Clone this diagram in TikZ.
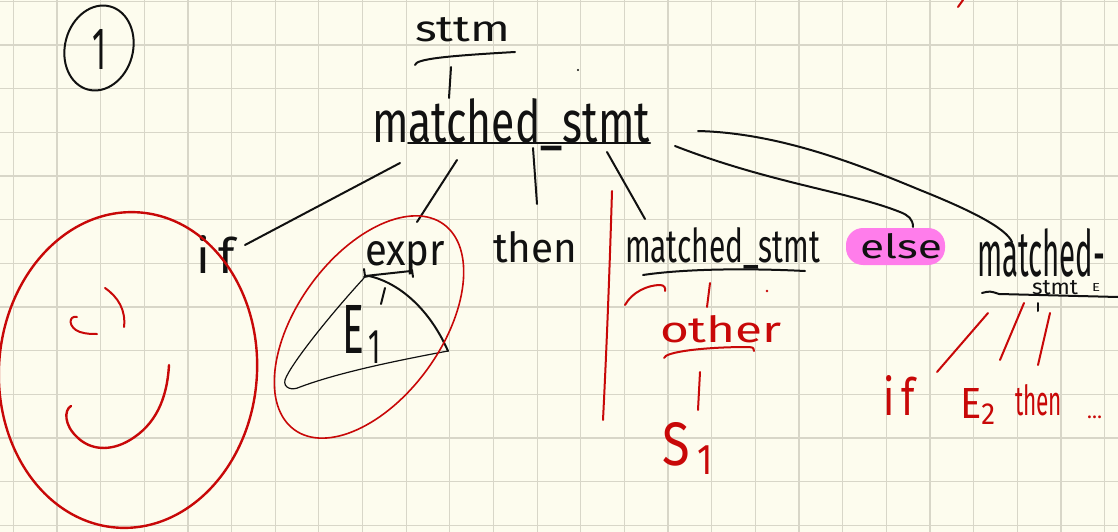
\documentclass[tikz,border=0pt]{standalone}
\usepackage{fontspec}
\setmainfont{Fira Sans}
\usepackage{graphicx}
\usetikzlibrary{calc}
\definecolor{paper}{RGB}{253,252,238}
\definecolor{gridc}{RGB}{216,214,200}
\definecolor{ink}{RGB}{17,17,17}
\definecolor{redink}{RGB}{200,8,8}
\definecolor{hilite}{RGB}{255,125,235}
% word of given width and height (pt) above the baseline
\newcommand{\hw}[3]{\resizebox{#1pt}{#2pt}{#3}}
\begin{document}
\begin{tikzpicture}[x=1pt,y=-1pt,
  pen/.style={draw=ink, line width=2pt, line cap=round, line join=round},
  thinpen/.style={draw=ink, line width=1.2pt, line cap=round, line join=round},
  redpen/.style={draw=redink, line width=2pt, line cap=round, line join=round},
  word/.style={anchor=base west, inner sep=0pt, outer sep=0pt, text=ink},
  redword/.style={word, text=redink}]
% paper and squared grid
\fill[paper] (0,0) rectangle (1118,532);
\useasboundingbox (0,0) rectangle (1118,532);
\foreach \i in {0,...,25} \draw[gridc, line width=1.2pt] ({13.3+43.65*\i},0) -- ({13.3+43.65*\i},532);
\foreach \j in {0,...,12} \draw[gridc, line width=1.2pt] (0,{1.4+43.65*\j}) -- (1118,{1.4+43.65*\j});

% highlight behind "else"
\fill[hilite, rounded corners=17] (846,228) rectangle (945,265);

% circled number
\node[word, anchor=base] (one) at (100,70) {\hw{14}{40}{1}};
\draw[pen, rotate around={-15:(99,48)}] (99,48) ellipse [x radius=34, y radius=43];

% parse tree words
\node[word] (sttm) at (415,42) {\hw{95}{24}{sttm}};
\node[word] (ms) at (372,142) {\hw{278}{44}{matched\_stmt}};
\node[word] (kif) at (196,273) {\hw{39}{38}{i\hspace{0.18em}f}};
\node[word] (expr) at (365,265) {\hw{80}{24}{expr}};
\node[word] (eone) at (342,353) {\hw{41}{48}{E\hspace{0.12em}\textsubscript{1}}};
\node[word] (kthen) at (493,262) {\hw{84}{31}{then}};
\node[word] (ms2) at (625,262) {\hw{195}{35}{matched\_stmt}};
\node[word] (kelse) at (860,258) {\hw{82}{25}{else}};
% two-line label: "matched-" over "stmt" with a small E
\node[word] (mr) at (977,276) {\hw{128}{48}{matched-}\llap{\raisebox{-18pt}{\hw{46}{14}{stmt}}\hspace{14pt}\raisebox{-15pt}{\hw{8}{8}{E}}\hspace{5pt}}};

% red annotations
\node[redword] (other) at (660,342) {\hw{122}{27}{other}};
\node[redword] (sone) at (662,465) {\hw{53}{43}{S\hspace{0.15em}\textsubscript{1}}};
\node[redword] (rif) at (883,415) {\hw{32}{40}{i\hspace{0.18em}f}};
\node[redword] (etwo) at (960,418) {\hw{37}{30}{E\textsubscript{2}}};
\node[redword] (rthen) at (1015,415) {\hw{47}{31}{then}};
\node[redword] (dots) at (1087,418) {\resizebox{15pt}{!}{\ldots}};

% underlines
\draw[pen] ($(sttm.base west)+(0,23)$) .. controls +(1,-6) and +(-70,4) .. ($(sttm.base west)+(100,10)$);
\draw[pen] ($(ms.base west)+(36,1)$) -- ($(ms.base west)+(278,1)$);
\draw[pen] ($(ms2.base west)+(18,13)$) .. controls +(40,-6) and +(-60,-3) .. ($(ms2.base west)+(180,9)$);
\draw[pen] ($(expr.base west)+(-1,4)$) -- ($(expr.base west)+(0,11)$) -- ($(expr.base west)+(46,6)$);
\draw[pen] ($(expr.base west)+(47,5)$) -- ($(expr.base west)+(48,12)$);
\draw[pen] ($(mr.base west)+(5,17)$) .. controls +(8,-2) .. ($(mr.base west)+(22,18)$) -- ($(mr.base west)+(141,21)$);
\fill[ink] (578,70) circle (1.1);

% tree edges
\draw[pen] ($(sttm.base west)+(36,25)$) -- ($(ms.base west)+(77,-44)$);
\draw[pen] ($(ms.base west)+(28,21)$) -- ($(kif.base west)+(49,-28)$);
\draw[pen] ($(ms.base west)+(85,18)$) -- ($(expr.base west)+(52,-43)$);
\draw[pen] ($(ms.base west)+(161,6)$) -- ($(kthen.base west)+(44,-58)$);
\draw[pen] ($(ms.base west)+(235,10)$) -- ($(ms2.base west)+(20,-43)$);
\draw[pen] ($(ms.base west)+(303,4)$) .. controls +(95,37) and +(-50,-20) .. ($(kelse.base west)+(40,-46)$) .. controls +(8,3) and +(0,-8) .. ($(kelse.base west)+(53,-31)$);
\draw[pen] ($(ms.base west)+(326,-11)$) .. controls +(80,2) and +(-65,-27) .. ($(mr.base west)+(-57,-86)$) .. controls +(50,20) and +(-6,-14) .. ($(mr.base west)+(35,-34)$);
\draw[pen] ($(expr.base west)+(20,23)$) -- ($(eone.base west)+(39,-49)$);
\draw[pen] ($(mr.base west)+(61,27)$) -- ($(mr.base west)+(61,35)$);

% subtree triangle under expr
\draw[thinpen] (364,278) .. controls (330,315) and (290,365) .. (285,380) .. controls (283,388) and (292,391) .. (300,387) .. controls (340,372) and (400,360) .. (448,351);
\draw[pen] (364,277) -- (369,276) .. controls (400,283) and (430,310) .. (448,351);

% red rings and face
\draw[redpen, line width=1.6pt, rotate around={54:(369,327)}] (369,327) ellipse [x radius=127, y radius=72];
\draw[redpen, line width=2.4pt, rotate around={-4:(128,370)}] (128,370) ellipse [x radius=129, y radius=158];
\draw[redpen] (77,317) .. controls (68,315) and (68,328) .. (80,332) .. controls (86,334) and (92,334) .. (97,334);
\draw[redpen] (105,288) .. controls (118,297) and (126,310) .. (124,327);
\draw[redpen, line width=2.4pt] (71,406) .. controls (64,410) and (64,425) .. (77,437) .. controls (90,450) and (110,452) .. (130,440) .. controls (155,425) and (167,400) .. (169,365);

% red strokes
\draw[redpen] (612,191) .. controls (609,290) and (606,360) .. (603,420);
\draw[redpen] (963,0) -- (958,7);
\draw[redpen] (625,305) .. controls (632,292) and (648,285) .. (660,285) .. controls (664,285) and (666,288) .. (665,291);
\draw[redpen] ($(ms2.base west)+(85,21)$) -- ($(other.base west)+(47,-35)$);
\fill[redink] (767,291) circle (1.3);
\draw[redpen] ($(other.base west)+(4,16)$) .. controls +(1,-6) and +(-45,0) .. ($(other.base west)+(88,5)$) .. controls +(6,0) and +(0,-2) .. ($(other.base west)+(94,9)$);
\draw[redpen] ($(other.base west)+(40,30)$) -- ($(sone.base west)+(36,-55)$);
\draw[redpen] ($(mr.base west)+(11,37)$) -- ($(rif.base west)+(54,-43)$);
\draw[redpen] ($(mr.base west)+(47,27)$) -- ($(etwo.base west)+(40,-58)$);
\draw[redpen] ($(mr.base west)+(73,37)$) -- ($(rthen.base west)+(23,-50)$);
\end{tikzpicture}
\end{document}
